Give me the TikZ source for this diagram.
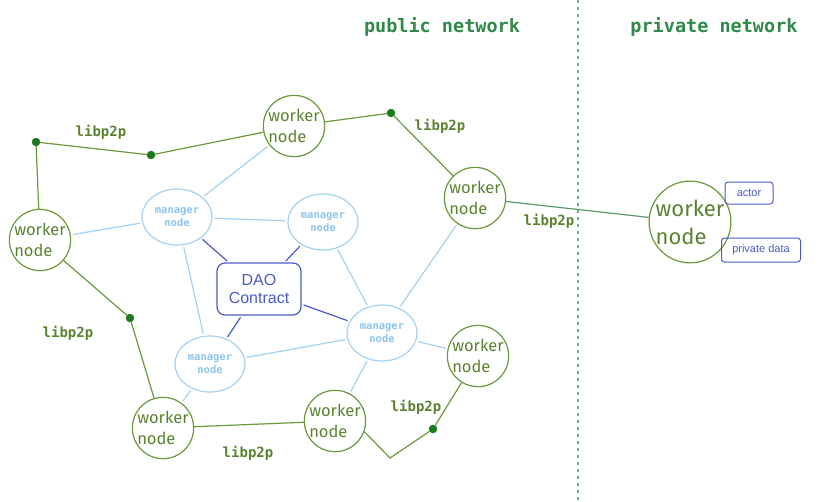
\documentclass[tikz,border=0pt]{standalone}
\usepackage{fontspec}
\usepackage{tikz}
\setmainfont{Liberation Sans}
\newfontfamily\monofont{DejaVu Sans Mono}
\newfontfamily\handfont{Fira Sans}
\usetikzlibrary{positioning,shapes.geometric}
\definecolor{workergreen}{HTML}{6A9A3A}
\definecolor{dotgreen}{HTML}{1B7A1B}
\definecolor{titlegreen}{HTML}{2F8A4A}
\definecolor{linkgreen}{HTML}{5A9A6A}
\definecolor{mgrblue}{HTML}{A3D2F2}
\definecolor{mgrtext}{HTML}{8CC4EE}
\definecolor{daoblue}{HTML}{4A5AC8}

\begin{document}
\begin{tikzpicture}[x=1pt,y=-1pt,
		worker/.style={circle,draw=workergreen,line width=1.2pt,minimum size=60pt,inner sep=0pt,
			text=workergreen!85!black,font=\handfont\fontsize{16.5}{21}\selectfont,align=left},
		manager/.style={ellipse,draw=mgrblue,line width=1.2pt,minimum width=70pt,minimum height=56pt,
			inner sep=0pt,text=mgrtext,font=\monofont\bfseries\fontsize{10.5}{13}\selectfont,align=center},
		dao/.style={rectangle,rounded corners=8pt,draw=daoblue,line width=1.2pt,minimum width=84pt,
			minimum height=52pt,text=daoblue,font=\fontsize{16}{18}\selectfont,align=center},
		tag/.style={rectangle,rounded corners=3pt,draw=daoblue,line width=1pt,text=daoblue,
			font=\fontsize{11}{12}\selectfont,inner sep=0pt},
		junction/.style={circle,fill=dotgreen,draw=dotgreen,minimum size=8pt,inner sep=0pt},
		plink/.style={text=workergreen!85!black,font=\monofont\bfseries\fontsize{14}{14}\selectfont},
		title/.style={text=titlegreen,font=\monofont\bfseries\fontsize{18.5}{18.5}\selectfont},
		glink/.style={draw=workergreen,line width=1.2pt},
		blink/.style={draw=mgrblue,line width=1.2pt,shorten <=2pt,shorten >=2pt},
		dlink/.style={draw=daoblue,line width=1.2pt,shorten <=2pt,shorten >=2pt}]
	\useasboundingbox (0,0) rectangle (822,501);
	% network split
	\draw[titlegreen!70,dashed,line width=1.2pt,dash pattern=on 3pt off 4pt] (578,0) -- (578,501);
	\node[title] (pubtitle) at (442,27) {public network};
	\node[title] (privtitle) at (714,27) {private network};
	% contract and managers
	\node[dao] (dao) at (259,289) {DAO\\Contract};
	\node[manager] (m1) at (177,217) {manager\\node};
	\node[manager] (m2) at (323,222) {manager\\node};
	\node[manager] (m3) at (382,333) {manager\\node};
	\node[manager] (m4) at (210,364) {manager\\node};
	% workers
	\node[worker] (w1) at (294,126) {worker\\node};
	\node[worker] (w2) at (40,240) {worker\\node};
	\node[worker] (w3) at (475,198) {worker\\node};
	\node[worker] (w4) at (163,428) {worker\\node};
	\node[worker] (w5) at (335,421) {worker\\node};
	\node[worker] (w6) at (478,356) {worker\\node};
	\node[worker,minimum size=78pt,font=\handfont\fontsize{22}{28}\selectfont] (w7) at (690,222) {worker\\node};
	\node[tag,minimum width=48pt,minimum height=22pt] (actor) at (749,193) {actor};
	\node[tag,minimum width=79pt,minimum height=24pt] (pdata) at (761,250) {private data};
	% junctions
	\node[junction] (d1) at (36,142) {};
	\node[junction] (d2) at (151,155) {};
	\node[junction] (d3) at (391,113) {};
	\node[junction] (d4) at (130,318) {};
	\node[junction] (d5) at (433,429) {};
	\coordinate (bend) at (390,458);
	% libp2p links
	\draw[glink] (w2) -- (d1) -- (d2) -- (w1);
	\draw[glink] (w1) -- (d3) -- (w3);
	\draw[glink] (w2) -- (d4) -- (w4);
	\draw[glink] (w4) -- (w5);
	\draw[glink] (w5.-20) -- (bend) -- (d5) -- (w6);
	\draw[draw=linkgreen,line width=1.2pt] (w3) -- (w7);
	\node[plink] (l1) at (101,132) {libp2p};
	\node[plink] (l2) at (440,126) {libp2p};
	\node[plink] (l3) at (549,221) {libp2p};
	\node[plink] (l4) at (68,333) {libp2p};
	\node[plink] (l5) at (248,453) {libp2p};
	\node[plink] (l6) at (416,407) {libp2p};
	% manager links
	\draw[blink] (m1) -- (w1);
	\draw[blink] (m1) -- (w2);
	\draw[blink] (m1) -- (m2);
	\draw[blink] (m1) -- (m4);
	\draw[blink] (m2) -- (m3);
	\draw[blink] (m3) -- (w3);
	\draw[blink] (m3) -- (w6);
	\draw[blink] (m3) -- (w5);
	\draw[blink] (m4) -- (m3);
	\draw[blink] (m4) -- (w4);
	% contract links
	\draw[dlink] (dao) -- (m1);
	\draw[dlink] (dao) -- (m2);
	\draw[dlink] (dao) -- (m3);
	\draw[dlink] (dao) -- (m4);
\end{tikzpicture}
\end{document}
